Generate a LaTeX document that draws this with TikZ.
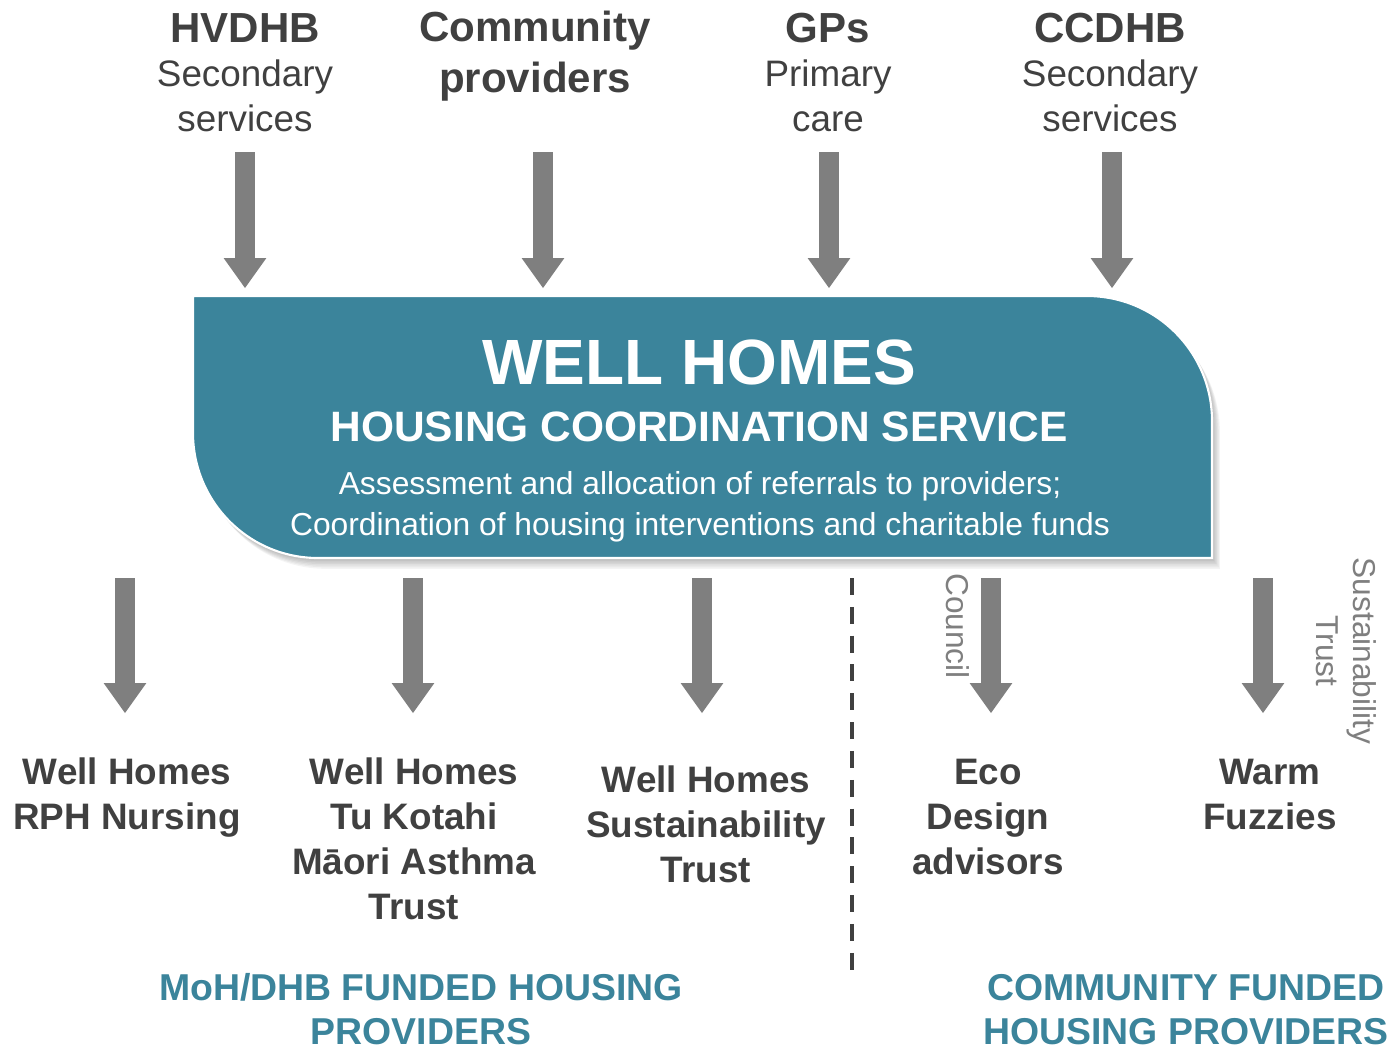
\documentclass[tikz,border=0pt]{standalone}
\usepackage{fontspec}
\setmainfont{Liberation Sans}
\usetikzlibrary{arrows.meta}
\definecolor{wellblue}{HTML}{3B849B}
\definecolor{pfeilgrau}{HTML}{7F7F7F}
\definecolor{textgrau}{HTML}{404040}

\tikzset{
  pfeil/.style={draw=pfeilgrau, line width=0.5cm,
    -{Triangle[width=1.07cm,length=0.75cm,line width=0pt]}},
  kopf/.style={text=textgrau, anchor=base, align=center,
    font=\bfseries\fontsize{29.9}{35.6}\selectfont},
  unterkopf/.style={text=textgrau, anchor=base, align=center,
    font=\fontsize{26.2}{32}\selectfont},
  anbieter/.style={text=textgrau, anchor=base, align=center,
    font=\bfseries\fontsize{26.2}{32}\selectfont},
  geldgeber/.style={text=pfeilgrau, rotate=-90, align=center,
    font=\fontsize{22.5}{26.3}\selectfont},
  gruppe/.style={text=wellblue, anchor=base, align=center,
    font=\bfseries\fontsize{26.6}{31.3}\selectfont},
  weiss/.style={text=white, anchor=base, align=center}
}

% Umriss des Koordinationsdienstes
\newcommand\boxpfad{(193,296) -- (1087,296) arc[start angle=-90, end angle=0, radius=125]
    -- (1212,558) -- (318,558) arc[start angle=90, end angle=180, radius=125] -- cycle}

\begin{document}
\begin{tikzpicture}[x=0.025cm, y=-0.025cm]
  \useasboundingbox (0,0) rectangle (1390,1048);

  % Zuweiser oben (base = letzte Zeile)
  \node[kopf] (hv) at (245,42) {HVDHB};
  \node[unterkopf] (hv-sub) at (245,131) {Secondary\\services};
  \node[kopf] (comm) at (535,92) {Community\\providers};
  \node[kopf] (gp) at (828,42) {GPs};
  \node[unterkopf] (gp-sub) at (828,131) {Primary\\care};
  \node[kopf] (cc) at (1110,42) {CCDHB};
  \node[unterkopf] (cc-sub) at (1110,131) {Secondary\\services};

  \foreach \n/\x in {hv/245, comm/543, gp/829, cc/1112}
  {
    \coordinate (\n-von) at (\x,152);
    \coordinate (\n-bis) at (\x,288);
    \draw[pfeil] (\n-von) -- (\n-bis);
  };

  % Koordinationsdienst
  \foreach \s in {1,...,7}  % weicher Schatten
    \fill[black, opacity=0.045, xshift=\s*0.8pt, yshift=-\s*1.1pt] \boxpfad;
  \path[fill=wellblue, draw=white, line width=1.5pt] \boxpfad;
  \node[weiss, font=\bfseries\fontsize{45.5}{50}\selectfont] (whs) at (699,384) {WELL HOMES};
  \node[weiss, font=\bfseries\fontsize{30.2}{36}\selectfont] (whs-sub) at (699,441)
    {HOUSING COORDINATION SERVICE};
  \node[weiss, font=\fontsize{22.6}{28.5}\selectfont] (whs-text) at (700,535)
    {Assessment and allocation of referrals to providers;\\
     Coordination of housing interventions and charitable funds};

  % Anbieter unten
  \foreach \n/\x in {rph/125, tuk/413, sus/702, eco/991, warm/1263}
  {
    \coordinate (\n-von) at (\x,578);
    \coordinate (\n-bis) at (\x,713);
    \draw[pfeil] (\n-von) -- (\n-bis);
  };
  \node[anbieter] (rph) at (127,829) {Well Homes\\RPH Nursing};
  \node[anbieter] (tuk) at (414,919) {Well Homes\\Tu Kotahi\\Māori Asthma\\Trust};
  \node[anbieter] (sus) at (706,882) {Well Homes\\Sustainability\\Trust};
  \node[anbieter] (eco) at (988,874) {Eco\\Design\\advisors};
  \node[anbieter] (warm) at (1270,829) {Warm\\Fuzzies};

  \node[geldgeber] (council) at (958,626) {Council};
  \node[geldgeber] (st) at (1346,651) {Sustainability\\Trust};

  \draw[textgrau, line width=3pt, dash pattern=on 12pt off 8.5pt] (852,578) -- (852,972);  % Trennlinie

  % Finanzierung
  \node[gruppe] (moh) at (421,1044) {MoH/DHB FUNDED HOUSING\\PROVIDERS};
  \node[gruppe] (cfhp) at (1186,1044) {COMMUNITY FUNDED\\HOUSING PROVIDERS};
\end{tikzpicture}
\end{document}
